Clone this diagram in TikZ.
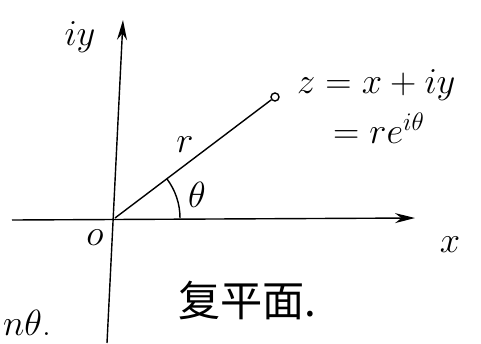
\documentclass[tikz,border=0pt]{standalone}
\usepackage{fontspec}
\newfontfamily\cjk{Noto Sans CJK SC}
\usepackage{tikz}
\usetikzlibrary{
	arrows.meta,
	positioning,
	calc
}

\begin{document}
\begin{tikzpicture}[
    axis/.style={thick,-{Stealth[length=4mm,width=2mm]}},
    ray/.style={thick},
    lbl/.style={font=\fontsize{20}{22}\selectfont, inner sep=1pt},
    dot/.style={circle, draw, thick, inner sep=0pt, minimum size=1.6mm}
]
\useasboundingbox (0,0) rectangle (9.62,6.86);

% Points
\coordinate (O) at (2.30,2.50);
\coordinate (xstart) at (0.24,2.46);
\coordinate (xend) at (8.30,2.50);
\coordinate (ystart) at (2.14,0);
\coordinate (yend) at (2.46,6.46);
\node[dot] (P) at (5.50,4.92) {};

% Axes and ray
\draw[axis] (xstart) -- (xend);
\draw[axis] (ystart) -- (yend);
\draw[ray] (O) -- (P);
\draw[ray] ($(O)+(1.3,0)$) arc[start angle=0, end angle=37, radius=1.3];

% Labels
\node[lbl] (iy) at (1.6,6.12) {$iy$};
\node[lbl] (zero) at (1.9,2.1) {$o$};
\node[lbl] (xlbl) at (9.0,1.96) {$x$};
\node[lbl] (rlbl) at (3.7,3.96) {$r$};
\node[lbl] (theta) at (3.94,2.96) {$\theta$};
\node[lbl, anchor=west] (zdef) at (5.90,5.16) {$z = x+iy$};
\node[lbl, anchor=west] (zpol) at (6.62,4.30) {$=re^{i\theta}$};
\node[font=\cjk\fontsize{24}{26}\selectfont] (plane) at (4.95,0.86) {复平面.};
\node[lbl, anchor=west] (cut) at (0.02,0.40) {$n\theta$.};

\end{tikzpicture}
\end{document}
